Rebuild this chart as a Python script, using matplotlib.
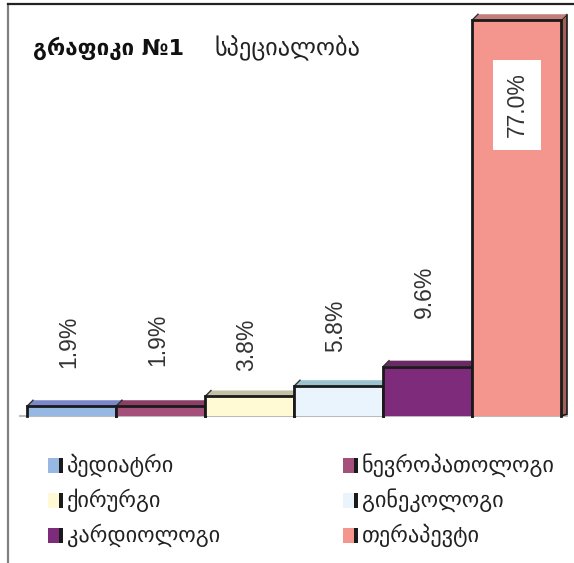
import matplotlib
matplotlib.use('Agg')
import matplotlib.pyplot as plt
from matplotlib.patches import Polygon, Rectangle
from matplotlib.lines import Line2D

categories = ['პედიატრი', 'ნევროპათოლოგი', 'ქირურგი', 'გინეკოლოგი', 'კარდიოლოგი', 'თერაპევტი']
values = [1.9, 1.9, 3.8, 5.8, 9.6, 77.0]
value_labels = ['1.9%', '1.9%', '3.8%', '5.8%', '9.6%', '77.0%']
label_pos = [14.4, 14.8, 13.8, 17.5, 24.1, 60.5]
front_colors = ['#97B8E2', '#A4507A', '#FFFAD4', '#EAF4FC', '#7F2B7B', '#F4968E']
top_colors = ['#7A88CA', '#8C3F66', '#C4C0A6', '#9AC3CF', '#6A2A66', '#C27E7A']
side_colors = ['#6F80B0', '#7A3558', '#B0AC90', '#85AFBB', '#5A2358', '#A0605C']
title_bold = 'გრაფიკი №1'
title_norm = 'სპეციალობა'

W, H = 574, 563
fig = plt.figure(figsize=(W / 100, H / 100), dpi=100)
x0px, unit_px = 27, 89
base_px, pct_px = 416, 5.14
ax = fig.add_axes([0, 0, 1, 1])
ax.set_xlim(-0.5 - x0px / unit_px, -0.5 + (W - x0px) / unit_px)
ax.set_ylim(-(H - base_px) / pct_px, base_px / pct_px)
ax.axis('off')

dx = 6 / unit_px
dy = 6 / pct_px

# baseline
ax.plot([-0.5 - 7 / unit_px, 5.5 + dx], [0, 0], color='#BBBBBB', lw=1.5, zorder=1)

for i, v in enumerate(values):
    z = 2 + i * 3
    xl, xr = i - 0.5, i + 0.5
    # side face
    ax.add_patch(Polygon([(xr, 0), (xr + dx, dy * 0.3), (xr + dx, v + dy), (xr, v)],
                         closed=True, facecolor=side_colors[i], edgecolor='#1a1a1a', lw=1.2, zorder=z))
    # front face
    ax.bar(i, v, width=1, color=front_colors[i], edgecolor='none', zorder=z + 1)
    # top face
    ax.add_patch(Polygon([(xl, v), (xr, v), (xr + dx, v + dy), (xl + dx, v + dy)],
                         closed=True, facecolor=top_colors[i], edgecolor='none', zorder=z + 1))
    ax.plot([xl, xl + dx], [v, v + dy], color='#333333', lw=1.0, zorder=z + 2)
    # outlines of front face
    ax.plot([xl, xl, xr, xr], [0, v, v, 0], color='#1a1a1a', lw=2.0, zorder=z + 2,
            solid_joinstyle='miter')

# value labels
for i, (lab, ly) in enumerate(zip(value_labels, label_pos)):
    kw = {}
    xoff = -0.03
    if i == len(values) - 1:
        kw['bbox'] = dict(facecolor='white', edgecolor='none', pad=9)
        xoff = 0.01
    ax.text(i + xoff, ly, lab, rotation=90, ha='center', va='center',
            fontsize=16.5, color='#333333', family='Liberation Sans', zorder=50, **kw)

# frame lines
fig.add_artist(Line2D([8 / W, 8 / W], [0, 1 - 4 / H], color='#808080', lw=1.6))
fig.add_artist(Line2D([8 / W, 1], [1 - 4 / H, 1 - 4 / H], color='#222222', lw=1.6))

# title
fig.text(33 / W, 1 - 48 / H, title_bold, fontsize=16, fontweight='bold',
         family='DejaVu Sans', va='center', ha='left', color='#111111')
fig.text(215 / W, 1 - 48 / H, title_norm, fontsize=17.5,
         family='DejaVu Sans', va='center', ha='left', color='#222222')

# legend
col_x = [48, 343]
row_y = [465, 500, 535]
for i, cat in enumerate(categories):
    cx = col_x[i % 2]
    cy = row_y[i // 2]
    fig.add_artist(Rectangle((cx / W, 1 - (cy + 7.5) / H), 11 / W, 15 / H,
                             transform=fig.transFigure, facecolor=front_colors[i],
                             edgecolor='none'))
    fig.add_artist(Rectangle(((cx + 11) / W, 1 - (cy + 7.5) / H), 4 / W, 15 / H,
                             transform=fig.transFigure, facecolor='#1a1a1a',
                             edgecolor='none'))
    fig.text((cx + 19) / W, 1 - cy / H, cat, fontsize=16, family='DejaVu Sans',
             va='center', ha='left', color='#222222')

fig.savefig('out.png', dpi=100, facecolor='white')
